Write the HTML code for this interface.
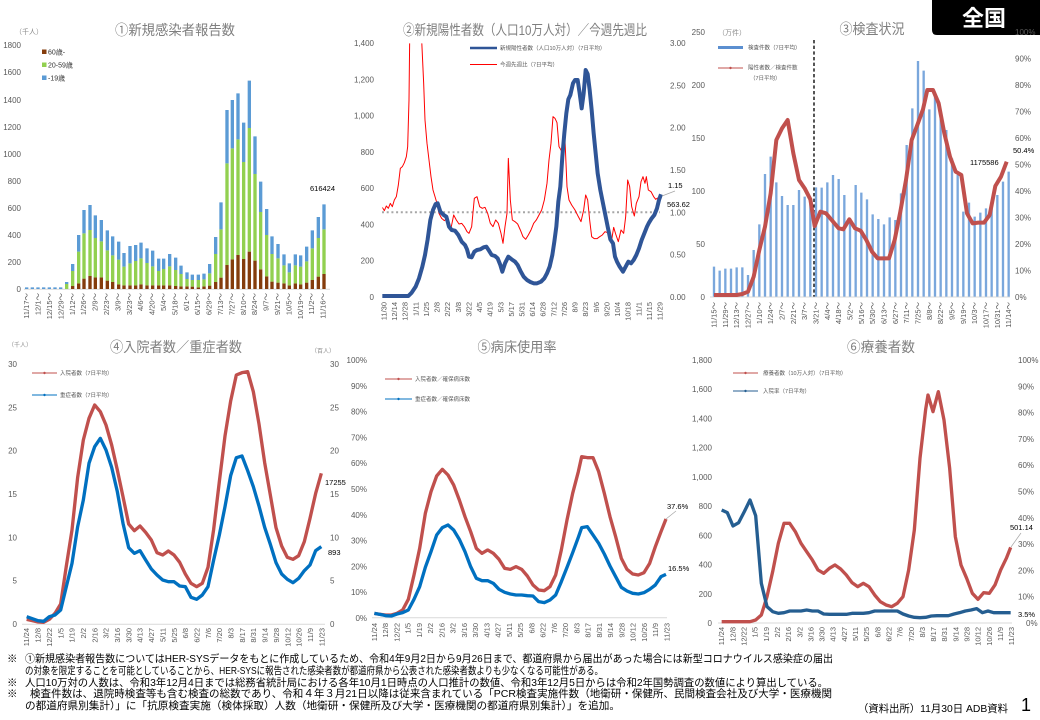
<!DOCTYPE html>
<html><head><meta charset="utf-8"><style>
html,body{margin:0;padding:0;background:#fff;}
svg{display:block;}
</style></head><body>
<svg width="1040" height="720" viewBox="0 0 1040 720" xmlns="http://www.w3.org/2000/svg" font-family="'Liberation Sans','Noto Sans CJK JP',sans-serif">
<rect width="1040" height="720" fill="#fff"/>
<defs>
<clipPath id="c2"><rect x="112" y="130" width="840" height="762"/></clipPath>
</defs>

<!-- ===== Titles ===== -->
<g fill="#7f7f7f" font-size="14" text-anchor="middle">
<text x="175" y="35" textLength="120" lengthAdjust="spacingAndGlyphs">①新規感染者報告数</text>
<text x="525" y="35" textLength="244" lengthAdjust="spacingAndGlyphs">②新規陽性者数（人口10万人対）／今週先週比</text>
<text x="872" y="34" textLength="65" lengthAdjust="spacingAndGlyphs">③検査状況</text>
<text x="176" y="352" textLength="132" lengthAdjust="spacingAndGlyphs">④入院者数／重症者数</text>
<text x="517" y="352" textLength="79" lengthAdjust="spacingAndGlyphs">⑤病床使用率</text>
<text x="881" y="352" textLength="68" lengthAdjust="spacingAndGlyphs">⑥療養者数</text>
</g>

<!-- 全国 box -->
<path d="M932,0H1040V35H937Q932,35 932,30Z" fill="#000"/>
<text x="984" y="26" fill="#fff" font-size="22" font-weight="bold" text-anchor="middle">全国</text>

<!-- ===== Panel 1 ===== -->
<text x="15" y="34" font-size="7" fill="#8c8c8c">（千人）</text>
<g font-size="8" fill="#595959" text-anchor="end">
<text x="21" y="48">1800</text><text x="21" y="75">1600</text><text x="21" y="103">1400</text><text x="21" y="130">1200</text><text x="21" y="157">1000</text><text x="21" y="184">800</text><text x="21" y="211">600</text><text x="21" y="238">400</text><text x="21" y="265">200</text><text x="21" y="292">0</text>
</g>
<line x1="24" y1="289.2" x2="330" y2="289.2" stroke="#d9d9d9" stroke-width="1"/>
<g transform="scale(0.33333)" fill="none" stroke-width="10">
<path stroke="#843c0c" d="M218,858V867M236,850V867M252,836V867M270,828V867M286,832V867M304,832V867M322,842V867M338,846V867M356,853V867M372,856V867M390,856V867M407,856V867M423,853V867M441,856V867M458,856V867M476,856V867M491,856V867M509,856V867M527,858V867M543,859V867M561,859V867M577,860V867M595,862V867M612,859V867M629,857V867M647,846V867M663,833V867M681,795V867M697,778V867M714,765V867M731,777V867M748,755V867M765,782V867M782,808V867M800,829V867M816,845V867M834,848V867M852,850V867M868,856V867M886,850V867M902,853V867M920,848V867M937,840V867M955,830V867M972,822V867"/>
<path stroke="#92d050" d="M200,852V867M218,813V858M236,755V850M252,700V836M270,690V828M286,714V832M304,724V832M322,751V842M338,766V846M356,779V853M372,800V856M390,790V856M407,783V856M423,775V853M441,789V856M458,799V856M476,813V856M491,807V856M509,799V856M527,810V858M543,822V859M561,837V859M577,840V860M595,840V862M612,838V859M629,820V857M647,762V846M663,688V833M681,490V795M697,445V778M714,418V765M731,486V777M748,384V755M765,522V782M782,636V808M800,705V829M816,762V845M834,775V848M852,796V850M868,817V856M886,796V850M902,800V853M920,784V848M937,745V840M955,714V830M972,688V822"/>
<path stroke="#5b9bd5" d="M80,862V867M97,862V867M114,862V867M131,862V867M148,862V867M165,862V867M182,862V867M200,846V852M218,792V813M236,705V755M252,630V700M270,615V690M286,646V714M304,660V724M322,691V751M338,709V766M356,725V779M372,759V800M390,738V790M407,735V783M423,728V775M441,745V789M458,752V799M476,776V813M491,776V807M509,762V799M527,773V810M543,797V822M561,817V837M577,824V840M595,824V840M612,821V838M629,792V820M647,711V762M663,607V688M681,330V490M697,300V445M714,280V418M731,368V486M748,242V384M765,409V522M782,545V636M800,627V705M816,709V762M834,732V775M852,763V796M868,790V817M886,763V796M902,766V800M920,740V784M937,691V745M955,651V714M972,613V688"/>
</g>
<rect x="42" y="49.5" width="4.5" height="4.5" fill="#843c0c"/><text x="48" y="54.5" font-size="7" fill="#333">60歳-</text>
<rect x="42" y="62.5" width="4.5" height="4.5" fill="#92d050"/><text x="48" y="67.5" font-size="7" fill="#333">20-59歳</text>
<rect x="42" y="75.5" width="4.5" height="4.5" fill="#5b9bd5"/><text x="48" y="80.5" font-size="7" fill="#333">-19歳</text>
<text x="310" y="191" font-size="7.5" fill="#000">616424</text>
<g font-size="7.5" fill="#595959" text-anchor="end">
<text transform="translate(29.2,293) rotate(-90)">11/17～</text><text transform="translate(40.6,293) rotate(-90)">12/1～</text><text transform="translate(52,293) rotate(-90)">12/15～</text><text transform="translate(63.4,293) rotate(-90)">12/29～</text><text transform="translate(74.8,293) rotate(-90)">1/12～</text><text transform="translate(86.2,293) rotate(-90)">1/26～</text><text transform="translate(97.6,293) rotate(-90)">2/9～</text><text transform="translate(109,293) rotate(-90)">2/23～</text><text transform="translate(120.4,293) rotate(-90)">3/9～</text><text transform="translate(131.8,293) rotate(-90)">3/23～</text><text transform="translate(143.2,293) rotate(-90)">4/6～</text><text transform="translate(154.6,293) rotate(-90)">4/20～</text><text transform="translate(166,293) rotate(-90)">5/4～</text><text transform="translate(177.4,293) rotate(-90)">5/18～</text><text transform="translate(188.8,293) rotate(-90)">6/1～</text><text transform="translate(200.2,293) rotate(-90)">6/15～</text><text transform="translate(211.6,293) rotate(-90)">6/29～</text><text transform="translate(223,293) rotate(-90)">7/13～</text><text transform="translate(234.4,293) rotate(-90)">7/27～</text><text transform="translate(245.8,293) rotate(-90)">8/10～</text><text transform="translate(257.2,293) rotate(-90)">8/24～</text><text transform="translate(268.6,293) rotate(-90)">9/7～</text><text transform="translate(280,293) rotate(-90)">9/21～</text><text transform="translate(291.4,293) rotate(-90)">10/5～</text><text transform="translate(302.8,293) rotate(-90)">10/19～</text><text transform="translate(314.2,293) rotate(-90)">11/2～</text><text transform="translate(325.6,293) rotate(-90)">11/16～</text>
</g>

<!-- ===== Panel 2 ===== -->
<g font-size="8" fill="#595959" text-anchor="end">
<text x="374" y="46">1,400</text><text x="374" y="82.3">1,200</text><text x="374" y="118.6">1,000</text><text x="374" y="154.9">800</text><text x="374" y="191.1">600</text><text x="374" y="227.4">400</text><text x="374" y="263.7">200</text><text x="374" y="300">0</text>
</g>
<g font-size="8" fill="#595959">
<text x="670" y="46">3.00</text><text x="670" y="88.3">2.50</text><text x="670" y="130.7">2.00</text><text x="670" y="173">1.50</text><text x="670" y="215.3">1.00</text><text x="670" y="257.7">0.50</text><text x="670" y="300">0.00</text>
</g>
<line x1="382" y1="212.2" x2="660" y2="212.2" stroke="#a6a6a6" stroke-width="2" stroke-dasharray="2,2.7"/>
<g transform="translate(345,0) scale(0.33333)" fill="none" stroke-linejoin="round">
<polyline clip-path="url(#c2)" stroke="#ff0000" stroke-width="3" points="112,622 118,632 124,618 130,625 136,610 142,620 148,600 154,590 160,555 166,505 172,500 178,488 184,470 188,440 192,300 194,120 196,-50 228,-50 230,120 236,250 240,360 246,430 252,480 258,530 264,570 270,590 276,610 282,640 290,655 298,662 306,655 312,680 318,685 326,645 334,660 342,672 350,670 358,680 366,695 372,700 380,680 388,595 396,590 404,620 412,625 420,622 428,640 436,670 444,680 452,660 460,670 468,700 474,730 480,680 486,640 490,475 496,600 502,660 510,665 518,672 526,690 534,710 542,718 550,705 558,690 566,670 574,660 582,645 590,630 598,600 606,550 612,480 618,430 624,350 630,355 636,368 642,440 648,450 654,470 660,420 666,560 672,600 680,615 690,630 700,650 708,665 716,630 722,585 728,600 734,660 740,710 748,716 756,716 764,710 772,705 780,695 788,698 794,710 800,720 806,682 812,702 820,725 828,690 836,700 842,650 848,540 854,560 860,620 868,648 874,610 882,590 888,545 894,530 900,550 904,530 910,570 918,575 926,590 932,598 938,594 944,600 948,595"/>
<polyline stroke="#2f5597" stroke-width="12" points="112,888 190,888 200,878 212,860 222,835 232,800 240,765 248,718 256,660 264,630 272,612 278,610 286,635 296,645 304,650 312,680 320,690 330,692 340,705 350,725 360,735 366,748 372,770 380,772 388,755 396,750 406,748 416,742 424,740 432,752 440,765 450,768 458,775 466,795 472,815 480,790 490,770 500,778 510,785 518,795 526,812 536,830 546,840 556,846 566,850 576,850 588,845 598,835 606,820 614,800 622,765 628,725 634,680 640,605 646,560 652,470 658,400 664,340 670,298 676,285 684,250 690,240 698,240 704,280 710,325 716,280 722,210 728,222 734,270 740,330 746,400 752,460 758,520 766,570 774,610 782,650 788,680 796,718 804,730 810,770 816,785 824,800 834,815 842,800 850,785 858,790 866,780 874,765 882,745 890,720 898,700 906,680 912,668 920,655 928,645 936,625 942,600 948,583"/>
</g>
<line x1="662" y1="196" x2="675" y2="191" stroke="#a6a6a6" stroke-width="0.7"/>
<text x="668" y="188" font-size="7.5" fill="#000">1.15</text>
<text x="667" y="207" font-size="7.5" fill="#000">563.62</text>
<line x1="470" y1="48" x2="497" y2="48" stroke="#2f5597" stroke-width="2.5"/>
<text x="500" y="50" font-size="5.5" fill="#595959">新規陽性者数（人口10万人対）（7日平均）</text>
<line x1="470" y1="64.5" x2="497" y2="64.5" stroke="#ff0000" stroke-width="1"/>
<text x="500" y="66.5" font-size="5.5" fill="#595959">今週先週比（7日平均）</text>
<g font-size="7.5" fill="#595959" text-anchor="end">
<text transform="translate(386.5,302) rotate(-90)">11/30</text><text transform="translate(397.1,302) rotate(-90)">12/14</text><text transform="translate(407.7,302) rotate(-90)">12/28</text><text transform="translate(418.3,302) rotate(-90)">1/11</text><text transform="translate(429,302) rotate(-90)">1/25</text><text transform="translate(439.6,302) rotate(-90)">2/8</text><text transform="translate(450.2,302) rotate(-90)">2/22</text><text transform="translate(460.8,302) rotate(-90)">3/8</text><text transform="translate(471.4,302) rotate(-90)">3/22</text><text transform="translate(482,302) rotate(-90)">4/5</text><text transform="translate(492.7,302) rotate(-90)">4/19</text><text transform="translate(503.3,302) rotate(-90)">5/3</text><text transform="translate(513.9,302) rotate(-90)">5/17</text><text transform="translate(524.5,302) rotate(-90)">5/31</text><text transform="translate(535.1,302) rotate(-90)">6/14</text><text transform="translate(545.7,302) rotate(-90)">6/28</text><text transform="translate(556.3,302) rotate(-90)">7/12</text><text transform="translate(567,302) rotate(-90)">7/26</text><text transform="translate(577.6,302) rotate(-90)">8/9</text><text transform="translate(588.2,302) rotate(-90)">8/23</text><text transform="translate(598.8,302) rotate(-90)">9/6</text><text transform="translate(609.4,302) rotate(-90)">9/20</text><text transform="translate(620,302) rotate(-90)">10/4</text><text transform="translate(630.7,302) rotate(-90)">10/18</text><text transform="translate(641.3,302) rotate(-90)">11/1</text><text transform="translate(651.9,302) rotate(-90)">11/15</text><text transform="translate(662.5,302) rotate(-90)">11/29</text>
</g>

<!-- ===== Panel 3 ===== -->
<text x="718" y="35" font-size="7" fill="#8c8c8c">（万件）</text>
<g font-size="8" fill="#595959" text-anchor="end">
<text x="705" y="35">250</text><text x="705" y="88">200</text><text x="705" y="141">150</text><text x="705" y="194">100</text><text x="705" y="247">50</text><text x="705" y="300">0</text>
</g>
<g font-size="8" fill="#595959">
<text x="1015" y="35">100%</text><text x="1015" y="61.5">90%</text><text x="1015" y="88">80%</text><text x="1015" y="114.5">70%</text><text x="1015" y="141">60%</text><text x="1015" y="167.5">50%</text><text x="1015" y="194">40%</text><text x="1015" y="220.5">30%</text><text x="1015" y="247">20%</text><text x="1015" y="273.5">10%</text><text x="1015" y="300">0%</text>
</g>
<line x1="710" y1="297" x2="1010" y2="297" stroke="#d9d9d9" stroke-width="1"/>
<g transform="translate(690,0) scale(0.33333)" fill="none">
<path stroke="#7aa7dc" stroke-width="7" d="M72,800V890M89,812V890M106,806V890M123,806V890M140,802V890M157,802V890M174,825V890M191,750V890M208,673V890M225,522V890M242,470V890M259,547V890M276,588V890M293,615V890M310,615V890M327,570V890M344,590V890M361,600V890M378,562V890M395,563V890M412,547V890M429,525V890M446,537V890M463,585V890M480,660V890M497,555V890M514,578V890M531,598V890M548,643V890M565,657V890M582,673V890M599,652V890M616,660V890M633,580V890M650,435V890M667,325V890M684,183V890M701,212V890M718,328V890M735,280V890M752,330V890M769,390V890M786,475V890M803,525V890M820,635V890M837,608V890M854,650V890M871,638V890M888,625V890M905,600V890M922,585V890M939,545V890M956,515V890"/>
<line x1="372" y1="120" x2="372" y2="890" stroke="#000" stroke-width="4" stroke-dasharray="10,7"/>
<polyline stroke="#c0504d" stroke-width="12" stroke-linejoin="round" points="72,885 89,885 106,885 123,885 140,885 157,882 174,875 191,830 208,750 225,680 242,580 259,420 276,385 293,360 310,460 327,540 344,565 361,598 374,678 391,635 408,640 425,660 446,685 460,688 478,658 495,685 512,692 529,720 546,755 563,775 580,775 597,775 614,720 631,635 648,540 665,420 682,375 699,328 712,270 729,270 746,310 763,400 780,470 797,515 814,525 831,640 848,670 865,668 882,668 899,645 916,558 933,530 950,485"/>
</g>
<rect x="718" y="46" width="25" height="3" fill="#5b8fd0"/>
<text x="748" y="49.5" font-size="5.5" fill="#595959">検査件数（7日平均）</text>
<line x1="718" y1="68" x2="743" y2="68" stroke="#c0504d" stroke-width="1"/><circle cx="730.5" cy="68" r="1.2" fill="#c0504d"/>
<text x="748" y="69.5" font-size="5.5" fill="#595959">陽性者数／検査件数</text>
<text x="750" y="80" font-size="5.5" fill="#595959">（7日平均）</text>
<text x="970" y="165" font-size="7.5" fill="#000">1175586</text>
<text x="1013" y="153" font-size="7.5" fill="#000">50.4%</text>
<g font-size="7.5" fill="#595959" text-anchor="end">
<text transform="translate(716.5,302) rotate(-90)">11/15～</text><text transform="translate(727.8,302) rotate(-90)">11/29～</text><text transform="translate(739.2,302) rotate(-90)">12/13～</text><text transform="translate(750.5,302) rotate(-90)">12/27～</text><text transform="translate(761.8,302) rotate(-90)">1/10～</text><text transform="translate(773.2,302) rotate(-90)">1/24～</text><text transform="translate(784.5,302) rotate(-90)">2/7～</text><text transform="translate(795.8,302) rotate(-90)">2/21～</text><text transform="translate(807.1,302) rotate(-90)">3/7～</text><text transform="translate(818.5,302) rotate(-90)">3/21～</text><text transform="translate(829.8,302) rotate(-90)">4/4～</text><text transform="translate(841.1,302) rotate(-90)">4/18～</text><text transform="translate(852.5,302) rotate(-90)">5/2～</text><text transform="translate(863.8,302) rotate(-90)">5/16～</text><text transform="translate(875.1,302) rotate(-90)">5/30～</text><text transform="translate(886.5,302) rotate(-90)">6/13～</text><text transform="translate(897.8,302) rotate(-90)">6/27～</text><text transform="translate(909.1,302) rotate(-90)">7/11～</text><text transform="translate(920.4,302) rotate(-90)">7/25～</text><text transform="translate(931.8,302) rotate(-90)">8/8～</text><text transform="translate(943.1,302) rotate(-90)">8/22～</text><text transform="translate(954.4,302) rotate(-90)">9/5～</text><text transform="translate(965.8,302) rotate(-90)">9/19～</text><text transform="translate(977.1,302) rotate(-90)">10/3～</text><text transform="translate(988.4,302) rotate(-90)">10/17～</text><text transform="translate(999.8,302) rotate(-90)">10/31～</text><text transform="translate(1011.1,302) rotate(-90)">11/14～</text>
</g>

<!-- ===== Panel 4 ===== -->
<text x="8" y="347" font-size="6" fill="#8c8c8c">（千人）</text>
<text x="311" y="353" font-size="6" fill="#8c8c8c">（百人）</text>
<g font-size="8" fill="#595959" text-anchor="end">
<text x="17" y="367">30</text><text x="17" y="410.3">25</text><text x="17" y="453.7">20</text><text x="17" y="497">15</text><text x="17" y="540.3">10</text><text x="17" y="583.7">5</text><text x="17" y="627">0</text>
</g>
<g font-size="8" fill="#595959">
<text x="330" y="367">30</text><text x="330" y="410.3">25</text><text x="330" y="453.7">20</text><text x="330" y="497">15</text><text x="330" y="540.3">10</text><text x="330" y="583.7">5</text><text x="330" y="627">0</text>
</g>
<line x1="22" y1="624.3" x2="325" y2="624.3" stroke="#d9d9d9" stroke-width="1"/>
<g transform="translate(0,330) scale(0.33333)" fill="none" stroke-width="10" stroke-linejoin="round">
<polyline stroke="#c0504d" points="80,868 97,872 114,876 131,877 148,868 165,850 182,822 199,708 216,600 233,442 250,330 267,265 284,225 301,245 318,285 335,345 352,420 369,500 386,582 403,602 420,588 437,607 454,630 471,668 488,675 505,663 522,675 539,697 556,732 573,760 590,770 607,760 624,712 641,598 658,455 675,318 692,213 709,135 726,128 743,125 760,185 777,282 794,398 811,495 828,593 845,648 862,682 879,688 896,677 913,635 930,565 947,490 964,430"/>
<polyline stroke="#0070c0" points="80,860 97,866 114,872 131,874 148,860 165,855 182,840 199,770 216,700 233,590 250,510 267,400 284,350 301,325 318,360 335,412 352,485 369,580 386,653 403,670 420,662 437,690 454,717 471,735 488,750 505,755 522,755 539,768 556,770 573,802 590,808 607,795 624,770 641,690 658,615 675,530 692,437 709,383 726,378 743,422 760,470 777,528 794,592 811,643 828,698 845,732 862,748 879,758 896,745 913,722 930,705 947,662 964,650"/>
</g>
<line x1="32" y1="373" x2="57" y2="373" stroke="#c0504d" stroke-width="1"/><circle cx="44.5" cy="373" r="1.2" fill="#c0504d"/>
<text x="60" y="375" font-size="5.5" fill="#595959">入院者数（7日平均）</text>
<line x1="32" y1="395" x2="57" y2="395" stroke="#0070c0" stroke-width="1"/><circle cx="44.5" cy="395" r="1.2" fill="#0070c0"/>
<text x="60" y="397" font-size="5.5" fill="#595959">重症者数（7日平均）</text>
<text x="325" y="485" font-size="7.5" fill="#000">17255</text>
<text x="328" y="555" font-size="7.5" fill="#000">893</text>
<g font-size="7.5" fill="#595959" text-anchor="end">
<text transform="translate(29.2,628) rotate(-90)">11/24</text><text transform="translate(40.6,628) rotate(-90)">12/8</text><text transform="translate(51.9,628) rotate(-90)">12/22</text><text transform="translate(63.3,628) rotate(-90)">1/5</text><text transform="translate(74.6,628) rotate(-90)">1/19</text><text transform="translate(86,628) rotate(-90)">2/2</text><text transform="translate(97.3,628) rotate(-90)">2/16</text><text transform="translate(108.7,628) rotate(-90)">3/2</text><text transform="translate(120,628) rotate(-90)">3/16</text><text transform="translate(131.4,628) rotate(-90)">3/30</text><text transform="translate(142.7,628) rotate(-90)">4/13</text><text transform="translate(154.1,628) rotate(-90)">4/27</text><text transform="translate(165.4,628) rotate(-90)">5/11</text><text transform="translate(176.8,628) rotate(-90)">5/25</text><text transform="translate(188.1,628) rotate(-90)">6/8</text><text transform="translate(199.5,628) rotate(-90)">6/22</text><text transform="translate(210.8,628) rotate(-90)">7/6</text><text transform="translate(222.2,628) rotate(-90)">7/20</text><text transform="translate(233.5,628) rotate(-90)">8/3</text><text transform="translate(244.9,628) rotate(-90)">8/17</text><text transform="translate(256.2,628) rotate(-90)">8/31</text><text transform="translate(267.6,628) rotate(-90)">9/14</text><text transform="translate(278.9,628) rotate(-90)">9/28</text><text transform="translate(290.3,628) rotate(-90)">10/12</text><text transform="translate(301.6,628) rotate(-90)">10/26</text><text transform="translate(313,628) rotate(-90)">11/9</text><text transform="translate(324.3,628) rotate(-90)">11/23</text>
</g>

<!-- ===== Panel 5 ===== -->
<g font-size="8" fill="#595959" text-anchor="end">
<text x="367" y="363">100%</text><text x="367" y="388.8">90%</text><text x="367" y="414.6">80%</text><text x="367" y="440.4">70%</text><text x="367" y="466.2">60%</text><text x="367" y="492">50%</text><text x="367" y="517.8">40%</text><text x="367" y="543.6">30%</text><text x="367" y="569.4">20%</text><text x="367" y="595.2">10%</text><text x="367" y="621">0%</text>
</g>
<line x1="372" y1="617.7" x2="667" y2="617.7" stroke="#d9d9d9" stroke-width="1"/>
<g transform="translate(345,330) scale(0.33333)" fill="none" stroke-width="10" stroke-linejoin="round">
<polyline stroke="#c0504d" points="88,850 105,853 122,855 139,855 156,850 173,840 190,808 207,735 224,655 241,550 258,485 275,438 292,418 309,435 326,465 343,510 360,560 377,605 394,655 411,670 428,660 445,670 462,688 479,715 496,718 513,710 530,718 547,738 564,765 581,780 598,782 615,770 632,735 649,660 666,570 683,490 700,425 710,380 727,383 744,383 761,425 778,490 795,560 812,620 829,685 846,718 863,732 880,735 897,728 914,700 931,650 948,605 963,567"/>
<polyline stroke="#0070c0" points="88,850 105,853 122,857 139,858 156,852 173,848 190,840 207,808 224,770 241,712 258,665 275,615 292,593 309,585 326,600 343,628 360,665 377,710 394,745 411,752 428,752 445,760 462,778 479,787 496,792 513,795 530,795 547,797 564,798 581,815 598,818 615,810 632,795 649,755 666,712 683,668 700,622 710,593 727,590 744,615 761,640 778,672 795,708 812,740 829,772 846,783 863,790 880,792 897,788 914,778 931,765 948,740 963,733"/>
</g>
<line x1="666" y1="519" x2="676" y2="511" stroke="#a6a6a6" stroke-width="0.7"/>
<text x="667" y="509" font-size="7.5" fill="#000">37.6%</text>
<text x="668" y="571" font-size="7.5" fill="#000">16.5%</text>
<line x1="385" y1="379" x2="412" y2="379" stroke="#c0504d" stroke-width="1"/><circle cx="398.5" cy="379" r="1.2" fill="#c0504d"/>
<text x="415" y="381" font-size="5.5" fill="#595959">入院者数／確保病床数</text>
<line x1="385" y1="399" x2="412" y2="399" stroke="#0070c0" stroke-width="1"/><circle cx="398.5" cy="399" r="1.2" fill="#0070c0"/>
<text x="415" y="401" font-size="5.5" fill="#595959">重症者数／確保病床数</text>
<g font-size="7.5" fill="#595959" text-anchor="end">
<text transform="translate(376.8,623) rotate(-90)">11/24</text><text transform="translate(388.1,623) rotate(-90)">12/8</text><text transform="translate(399.3,623) rotate(-90)">12/22</text><text transform="translate(410.6,623) rotate(-90)">1/5</text><text transform="translate(421.8,623) rotate(-90)">1/19</text><text transform="translate(433.1,623) rotate(-90)">2/2</text><text transform="translate(444.3,623) rotate(-90)">2/16</text><text transform="translate(455.6,623) rotate(-90)">3/2</text><text transform="translate(466.8,623) rotate(-90)">3/16</text><text transform="translate(478.1,623) rotate(-90)">3/30</text><text transform="translate(489.3,623) rotate(-90)">4/13</text><text transform="translate(500.6,623) rotate(-90)">4/27</text><text transform="translate(511.8,623) rotate(-90)">5/11</text><text transform="translate(523.1,623) rotate(-90)">5/25</text><text transform="translate(534.3,623) rotate(-90)">6/8</text><text transform="translate(545.6,623) rotate(-90)">6/22</text><text transform="translate(556.8,623) rotate(-90)">7/6</text><text transform="translate(568.1,623) rotate(-90)">7/20</text><text transform="translate(579.3,623) rotate(-90)">8/3</text><text transform="translate(590.6,623) rotate(-90)">8/17</text><text transform="translate(601.8,623) rotate(-90)">8/31</text><text transform="translate(613.1,623) rotate(-90)">9/14</text><text transform="translate(624.3,623) rotate(-90)">9/28</text><text transform="translate(635.6,623) rotate(-90)">10/12</text><text transform="translate(646.8,623) rotate(-90)">10/26</text><text transform="translate(658.1,623) rotate(-90)">11/9</text><text transform="translate(669.3,623) rotate(-90)">11/23</text>
</g>

<!-- ===== Panel 6 ===== -->
<g font-size="8" fill="#595959" text-anchor="end">
<text x="712" y="363">1,800</text><text x="712" y="392.2">1,600</text><text x="712" y="421.4">1,400</text><text x="712" y="450.7">1,200</text><text x="712" y="479.9">1,000</text><text x="712" y="509.1">800</text><text x="712" y="538.3">600</text><text x="712" y="567.6">400</text><text x="712" y="596.8">200</text><text x="712" y="626">0</text>
</g>
<g font-size="8" fill="#595959">
<text x="1018" y="363">100%</text><text x="1018" y="389.3">90%</text><text x="1018" y="415.6">80%</text><text x="1018" y="441.9">70%</text><text x="1018" y="468.2">60%</text><text x="1018" y="494.5">50%</text><text x="1018" y="520.8">40%</text><text x="1018" y="547.1">30%</text><text x="1018" y="573.4">20%</text><text x="1018" y="599.7">10%</text><text x="1026" y="626">0%</text>
</g>
<line x1="718" y1="623" x2="1012" y2="623" stroke="#d9d9d9" stroke-width="1"/>
<g transform="translate(690,330) scale(0.33333)" fill="none" stroke-width="10" stroke-linejoin="round">
<polyline stroke="#c0504d" points="95,875 112,875 129,875 146,875 163,875 180,875 197,870 214,855 231,800 248,725 265,640 282,580 299,580 316,605 333,640 350,665 367,690 384,720 401,730 418,715 435,705 452,717 469,735 486,758 503,770 520,760 537,770 554,795 571,815 588,825 605,830 622,820 639,800 656,720 673,600 690,385 707,238 714,195 729,245 745,185 762,270 779,415 796,620 813,705 830,745 847,790 864,808 881,788 898,790 915,765 932,720 949,685 962,652"/>
<polyline stroke="#255e91" points="95,540 112,548 129,588 146,578 163,545 180,510 197,557 214,760 231,830 248,845 265,850 282,848 299,843 316,843 333,843 350,840 367,843 384,843 401,852 418,853 435,853 452,853 469,853 486,850 503,850 520,850 537,848 554,843 571,843 588,843 605,843 622,843 639,852 656,858 673,862 690,863 707,862 724,858 741,857 758,857 775,857 792,852 809,848 826,843 843,840 860,836 877,848 894,843 911,848 928,848 945,848 962,848"/>
</g>
<line x1="1011" y1="547" x2="1021" y2="533" stroke="#a6a6a6" stroke-width="0.7"/>
<text x="1010" y="530" font-size="7.5" fill="#000">501.14</text>
<text x="1018" y="617" font-size="7.5" fill="#000">3.5%</text>
<line x1="733" y1="373" x2="758" y2="373" stroke="#c0504d" stroke-width="1"/><circle cx="745.5" cy="373" r="1.2" fill="#c0504d"/>
<text x="763" y="375" font-size="5.5" fill="#595959">療養者数（10万人対）（7日平均）</text>
<line x1="733" y1="391" x2="758" y2="391" stroke="#255e91" stroke-width="1"/><circle cx="745.5" cy="391" r="1.2" fill="#255e91"/>
<text x="763" y="393" font-size="5.5" fill="#595959">入院率（7日平均）</text>
<g font-size="7.5" fill="#595959" text-anchor="end">
<text transform="translate(724.2,627) rotate(-90)">11/24</text><text transform="translate(735.4,627) rotate(-90)">12/8</text><text transform="translate(746.5,627) rotate(-90)">12/22</text><text transform="translate(757.7,627) rotate(-90)">1/5</text><text transform="translate(768.8,627) rotate(-90)">1/19</text><text transform="translate(780,627) rotate(-90)">2/2</text><text transform="translate(791.1,627) rotate(-90)">2/16</text><text transform="translate(802.3,627) rotate(-90)">3/2</text><text transform="translate(813.4,627) rotate(-90)">3/16</text><text transform="translate(824.6,627) rotate(-90)">3/30</text><text transform="translate(835.7,627) rotate(-90)">4/13</text><text transform="translate(846.9,627) rotate(-90)">4/27</text><text transform="translate(858,627) rotate(-90)">5/11</text><text transform="translate(869.2,627) rotate(-90)">5/25</text><text transform="translate(880.3,627) rotate(-90)">6/8</text><text transform="translate(891.5,627) rotate(-90)">6/22</text><text transform="translate(902.6,627) rotate(-90)">7/6</text><text transform="translate(913.8,627) rotate(-90)">7/20</text><text transform="translate(924.9,627) rotate(-90)">8/3</text><text transform="translate(936.1,627) rotate(-90)">8/17</text><text transform="translate(947.2,627) rotate(-90)">8/31</text><text transform="translate(958.4,627) rotate(-90)">9/14</text><text transform="translate(969.5,627) rotate(-90)">9/28</text><text transform="translate(980.7,627) rotate(-90)">10/12</text><text transform="translate(991.8,627) rotate(-90)">10/26</text><text transform="translate(1003,627) rotate(-90)">11/9</text><text transform="translate(1014.1,627) rotate(-90)">11/23</text>
</g>

<!-- ===== Footer ===== -->
<g font-size="10.5" fill="#000">
<text x="7" y="662">※</text>
<text x="25" y="662" textLength="808" lengthAdjust="spacingAndGlyphs">①新規感染者報告数についてはHER-SYSデータをもとに作成しているため、令和4年9月2日から9月26日まで、都道府県から届出があった場合には新型コロナウイルス感染症の届出</text>
<text x="25" y="674" textLength="578" lengthAdjust="spacingAndGlyphs">の対象を限定することを可能としていることから、HER-SYSに報告された感染者数が都道府県から公表された感染者数よりも少なくなる可能性がある。</text>
<text x="7" y="686">※</text>
<text x="25" y="686" textLength="803" lengthAdjust="spacingAndGlyphs">人口10万対の人数は、令和3年12月4日までは総務省統計局における各年10月1日時点の人口推計の数値、令和3年12月5日からは令和2年国勢調査の数値により算出している。</text>
<text x="7" y="697">※</text>
<text x="30" y="697" textLength="802" lengthAdjust="spacingAndGlyphs">検査件数は、退院時検査等も含む検査の総数であり、令和４年３月21日以降は従来含まれている「PCR検査実施件数（地衛研・保健所、民間検査会社及び大学・医療機関</text>
<text x="25" y="709" textLength="595" lengthAdjust="spacingAndGlyphs">の都道府県別集計）」に「抗原検査実施（検体採取）人数（地衛研・保健所及び大学・医療機関の都道府県別集計）」を追加。</text>
<text x="858" y="712" textLength="150" lengthAdjust="spacingAndGlyphs">（資料出所）11月30日 ADB資料</text>
</g>
<text x="1021" y="711" font-size="18" fill="#000">1</text>
</svg>
</body></html>
